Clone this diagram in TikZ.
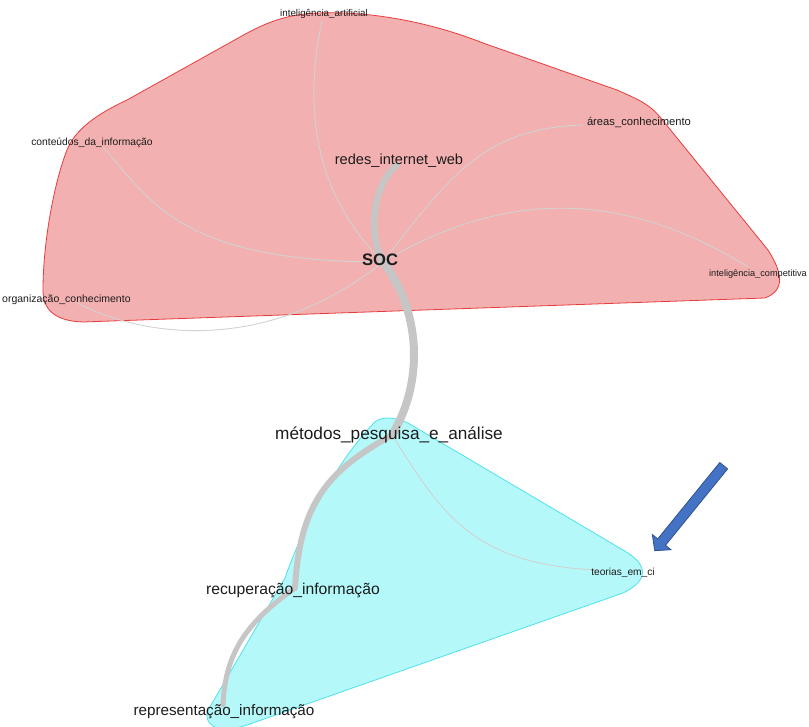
\documentclass[tikz,border=0pt]{standalone}
\usepackage{fontspec}
\setmainfont{Liberation Sans}
\begin{document}
\begin{tikzpicture}[x=1pt,y=-1pt,
  lbl/.style={inner sep=0pt, text={rgb,255:red,28;green,28;blue,28}},
  fs/.style={font=\fontsize{#1}{#1}\selectfont},
  thinedge/.style={draw={rgb,255:red,210;green,210;blue,210}, line width=0.9pt},
  thickedge/.style={draw={rgb,255:red,198;green,198;blue,198}, line cap=round},
  redhull/.style={fill={rgb,255:red,242;green,176;blue,176}, draw={rgb,255:red,232;green,60;blue,60}, line width=0.8pt},
  cyanhull/.style={fill={rgb,255:red,180;green,248;blue,250}, draw={rgb,255:red,80;green,225;blue,235}, line width=0.8pt},
  bluearrow/.style={fill={rgb,255:red,68;green,114;blue,196}, draw={rgb,255:red,47;green,82;blue,143}, line width=0.8pt, line join=miter}
]
\useasboundingbox (0,0) rectangle (809,727);
\clip (0,0) rectangle (809,727);

% hulls
\path[redhull] (127,100) -- (240,37)
  .. controls (270,20) and (290,14) .. (320,13)
  .. controls (370,11) and (430,22) .. (483,43)
  -- (617,90)
  .. controls (640,100) and (650,105) .. (660,117)
  -- (768,250)
  .. controls (782,272) and (786,290) .. (765,298)
  -- (83,322)
  .. controls (55,321) and (43,310) .. (43,290)
  .. controls (43,240) and (55,180) .. (67,150)
  .. controls (75,130) and (95,115) .. (127,100) -- cycle;

\path[cyanhull] (372,425)
  .. controls (378,416) and (393,416) .. (408,423)
  -- (623,550)
  .. controls (648,564) and (650,580) .. (623,593)
  -- (250,724)
  .. controls (225,733) and (205,730) .. (207,712)
  -- (285,578)
  .. controls (300,535) and (330,470) .. (372,425) -- cycle;

% vertices
\coordinate (vIA) at (322,21);
\coordinate (vCont) at (103,147);
\coordinate (vRedes) at (397,165);
\coordinate (vAreas) at (583,125);
\coordinate (vSOC) at (383,262);
\coordinate (vComp) at (748,267);
\coordinate (vOrg) at (77,303);
\coordinate (vMet) at (392,435);
\coordinate (vTeo) at (598,570);
\coordinate (vRec) at (295,588);
\coordinate (vRep) at (223,705);

% thin edges
\draw[thinedge] (vIA) .. controls (305,100) and (310,190) .. (vSOC);
\draw[thinedge] (vCont) .. controls (150,200) and (180,262) .. (vSOC);
\draw[thinedge] (vAreas) .. controls (485,128) and (450,175) .. (vSOC);
\draw[thinedge] (vComp) .. controls (640,200) and (520,180) .. (vSOC);
\draw[thinedge] (vOrg) .. controls (160,345) and (280,345) .. (vSOC);
\draw[thinedge] (vMet) .. controls (440,510) and (470,565) .. (vTeo);

% thick edges
\draw[thickedge, line width=6.5pt] (vRedes) .. controls (372,185) and (368,235) .. (vSOC);
\draw[thickedge, line width=8pt] (vSOC) .. controls (420,310) and (425,380) .. (vMet);
\draw[thickedge, line width=6pt] (vMet) .. controls (330,470) and (300,500) .. (vRec);
\draw[thickedge, line width=5pt] (vRec) .. controls (250,620) and (225,650) .. (vRep);

% labels
\node[lbl, fs=9.8] (ia) at (324,14) {inteligência\_artificial};
\node[lbl, fs=10.3] (cont) at (92,143) {conteúdos\_da\_informação};
\node[lbl, fs=14.6] (redes) at (399,161) {redes\_internet\_web};
\node[lbl, fs=11.2] (areas) at (639,122) {áreas\_conhecimento};
\node[lbl, font=\fontsize{16.6}{16.6}\selectfont\bfseries] (soc) at (380,260) {SOC};
\node[lbl, fs=9.2, anchor=west] (comp) at (709,274) {inteligência\_competitiva};
\node[lbl, fs=10.5, anchor=west] (org) at (2,300) {organização\_conhecimento};
\node[lbl, fs=17.2] (met) at (389,435) {métodos\_pesquisa\_e\_análise};
\node[lbl, fs=10.2] (teo) at (623,573) {teorias\_em\_ci};
\node[lbl, fs=15.7] (rec) at (293,590) {recuperação\_informação};
\node[lbl, fs=15.2] (rep) at (224,712) {representação\_informação};

% blue arrow
\path[bluearrow] (727.6,468.9) -- (665.5,545.3) -- (670.9,549.7) -- (654.7,550.7)
  -- (652.3,534.5) -- (657.7,538.9) -- (719.8,462.5) -- cycle;
\end{tikzpicture}
\end{document}
